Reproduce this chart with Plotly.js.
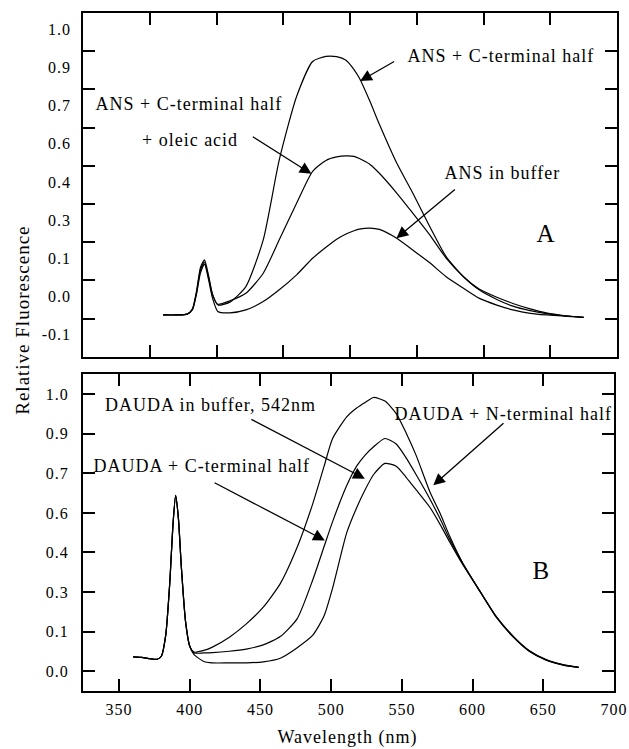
<!DOCTYPE html>
<html>
<head>
<meta charset="utf-8">
<script src="https://cdn.plot.ly/plotly-3.0.1.min.js"></script>
<style>
html,body{margin:0;padding:0;background:#fff;}
#chart{width:629px;height:749px;}
#chart text{letter-spacing:1px;}
</style>
</head>
<body>
<div id="chart"></div>
<script>
// ---------- Panel A (ANS) ----------
const ansWavelength = [360,370,378,382,385,388,391,394,397,401,410,422,435,447,460,472,482,490,497,503,507,515,522,535,547,560,572,585,597,610,622,635,647,660,675];
const ansCterm      = [-0.058,-0.058,-0.055,-0.035,0.03,0.12,0.148,0.09,0.02,-0.021,-0.01,0.048,0.223,0.522,0.759,0.89,0.909,0.908,0.895,0.86,0.828,0.74,0.655,0.51,0.398,0.27,0.16,0.085,0.038,0.008,-0.015,-0.035,-0.05,-0.06,-0.067];
const ansOleic      = [-0.058,-0.058,-0.055,-0.037,0.025,0.11,0.14,0.085,0.018,-0.018,-0.005,0.023,0.098,0.223,0.36,0.479,0.52,0.533,0.537,0.535,0.527,0.505,0.472,0.398,0.323,0.24,0.155,0.085,0.035,0.0,-0.025,-0.042,-0.053,-0.061,-0.067];
const ansBuffer     = [-0.058,-0.058,-0.055,-0.038,0.02,0.1,0.132,0.075,0.005,-0.045,-0.05,-0.039,-0.008,0.036,0.092,0.154,0.195,0.225,0.245,0.257,0.263,0.267,0.262,0.229,0.185,0.136,0.085,0.042,0.004,-0.021,-0.039,-0.052,-0.058,-0.062,-0.067];

// ---------- Panel B (DAUDA) ----------
const daudaWavelength = [360,366,372,377,380,383,386,388,390,392,394,397,400,403,410,416,428,440,452,464,476,487,495,501,511,518,524,530,538,546,553,560,570,577,584,593,605,617,629,640,652,664,675];
const daudaNterm  = [0.052,0.05,0.045,0.043,0.055,0.13,0.33,0.52,0.635,0.55,0.38,0.18,0.09,0.069,0.075,0.087,0.123,0.171,0.231,0.316,0.448,0.605,0.74,0.84,0.918,0.95,0.97,0.988,0.975,0.93,0.86,0.78,0.645,0.57,0.485,0.39,0.29,0.195,0.125,0.075,0.042,0.024,0.014];
const daudaCterm  = [0.052,0.05,0.045,0.043,0.055,0.13,0.33,0.52,0.635,0.55,0.38,0.18,0.09,0.066,0.066,0.067,0.072,0.08,0.095,0.125,0.19,0.33,0.45,0.54,0.67,0.74,0.78,0.81,0.84,0.82,0.77,0.71,0.62,0.55,0.475,0.39,0.29,0.195,0.123,0.073,0.041,0.023,0.014];
const daudaBuffer = [0.052,0.05,0.045,0.043,0.055,0.13,0.33,0.52,0.635,0.55,0.38,0.18,0.09,0.06,0.035,0.03,0.03,0.03,0.034,0.047,0.085,0.13,0.2,0.3,0.5,0.59,0.655,0.71,0.75,0.74,0.70,0.655,0.59,0.53,0.465,0.385,0.29,0.193,0.122,0.072,0.04,0.022,0.014];

// ---------- Tick labels ----------
const topYLabelVals = [-1,0,1,2,3,4,5,6,7].map(k => k/7);
const topYLabels    = ['-0.1','0.0','0.1','0.3','0.4','0.6','0.7','0.9','1.0'];
const topYTickVals  = [-0.5,0.5,1.5,2.5,3.5,4.5,5.5,6.5].map(k => k/7);
const botYTickVals  = [0,1,2,3,4,5,6,7].map(k => k/7);
const botYLabels    = ['0.0','0.1','0.3','0.4','0.6','0.7','0.9','1.0'];
const topXTickVals  = [350,400,450,500,550,600,650];
const botXTickVals  = [350,400,450,500,550,600,650,700];

const FONT = 'Liberation Serif, Times New Roman, serif';
const lineStyle = {color:'black', width:1.2, shape:'spline', smoothing:0.6};

function tr(x, y, xa, ya){
  return {x:x, y:y, xaxis:xa, yaxis:ya, type:'scatter', mode:'lines', line:lineStyle, hoverinfo:'skip', showlegend:false};
}
const data = [
  tr(ansWavelength, ansCterm, 'x', 'y'),
  tr(ansWavelength, ansOleic, 'x', 'y'),
  tr(ansWavelength, ansBuffer, 'x', 'y'),
  tr(daudaWavelength, daudaNterm, 'x2', 'y2'),
  tr(daudaWavelength, daudaCterm, 'x2', 'y2'),
  tr(daudaWavelength, daudaBuffer, 'x2', 'y2'),
  // carrier for the label-only overlay axis of panel A (draws nothing)
  {x:[null], y:[null], xaxis:'x', yaxis:'y3', type:'scatter', mode:'lines', hoverinfo:'skip', showlegend:false}
];

const axBase = {showline:true, linewidth:2, linecolor:'black', mirror:'ticks', ticks:'inside', ticklen:12, tickwidth:2, tickcolor:'black', showgrid:false, zeroline:false, tickfont:{family:FONT, size:16, color:'black'}};

function txt(t, x, y, xr, yr, size){
  return {text:t, x:x, y:y, xref:xr, yref:yr, showarrow:false, font:{family:FONT, size:size||18, color:'black'}, xanchor:'center', yanchor:'middle'};
}
function arr(x, y, ax, ay, xr, yr){
  return {text:'', x:x, y:y, ax:ax, ay:ay, xref:xr, yref:yr, axref:xr, ayref:yr, showarrow:true, arrowhead:2, arrowsize:1.8, arrowwidth:1.3, arrowcolor:'black', standoff:0, startstandoff:0};
}

const annotations = [
  txt('ANS + C-terminal half', 612.9, 0.912, 'x', 'y'),
  arr(507.6, 0.817, 534.2, 0.893, 'x', 'y'),
  txt('ANS + C-terminal half', 379.2, 0.732, 'x', 'y'),
  txt('+ oleic acid', 380.1, 0.597, 'x', 'y'),
  arr(471.1, 0.470, 426.1, 0.612, 'x', 'y'),
  txt('ANS in buffer', 614.6, 0.472, 'x', 'y'),
  arr(534.8, 0.229, 579.7, 0.416, 'x', 'y'),
  txt('A', 647.1, 0.248, 'x', 'y', 25),

  txt('DAUDA in buffer, 542nm', 414.7, 0.960, 'x2', 'y2'),
  arr(523.8, 0.695, 442.5, 0.912, 'x2', 'y2'),
  txt('DAUDA + C-terminal half', 408.3, 0.740, 'x2', 'y2'),
  arr(495.5, 0.472, 416.5, 0.683, 'x2', 'y2'),
  txt('DAUDA + N-terminal half', 621.5, 0.930, 'x2', 'y2'),
  arr(572.2, 0.671, 622.9, 0.900, 'x2', 'y2'),
  txt('B', 648.8, 0.364, 'x2', 'y2', 25),

  {text:'Relative Fluorescence', x:-0.114, y:0.547, xref:'paper', yref:'paper', textangle:-90, showarrow:false, font:{family:FONT, size:19, color:'black'}, xanchor:'center', yanchor:'middle'},
  {text:'Wavelength (nm)', x:0.496, y:-0.068, xref:'paper', yref:'paper', showarrow:false, font:{family:FONT, size:18, color:'black'}, xanchor:'center', yanchor:'middle'}
];

const layout = {
  width:629, height:749,
  margin:{l:83, r:12, t:13, b:58},
  paper_bgcolor:'white', plot_bgcolor:'white',
  showlegend:false,
  xaxis: Object.assign({}, axBase, {domain:[0,1], anchor:'y', range:[300,700], tickmode:'array', tickvals:topXTickVals, showticklabels:false}),
  yaxis: Object.assign({}, axBase, {domain:[0.493,1], anchor:'x', range:[-1.5/7, 7.5/7], tickmode:'array', tickvals:topYTickVals, showticklabels:false}),
  yaxis3: {overlaying:'y', anchor:'x', side:'left', range:[-1.5/7 - 0.011, 7.5/7 - 0.011], tickmode:'array', tickvals:topYLabelVals, ticktext:topYLabels, ticks:'', showline:false, showgrid:false, zeroline:false, ticklabelstandoff:11, tickfont:{family:FONT, size:16, color:'black'}},
  xaxis2: Object.assign({}, axBase, {domain:[0,0.9944], anchor:'y2', range:[324.5,700], tickmode:'array', tickvals:botXTickVals, ticktext:botXTickVals.map(String), ticklabelstandoff:3}),
  yaxis2: Object.assign({}, axBase, {domain:[0,0.467], anchor:'x2', range:[-0.5/7, 7.5/7], tickmode:'array', tickvals:botYTickVals, ticktext:botYLabels, ticklabelstandoff:9}),
  annotations: annotations
};

Plotly.newPlot('chart', data, layout, {staticPlot:true, displayModeBar:false});
</script>
</body>
</html>
